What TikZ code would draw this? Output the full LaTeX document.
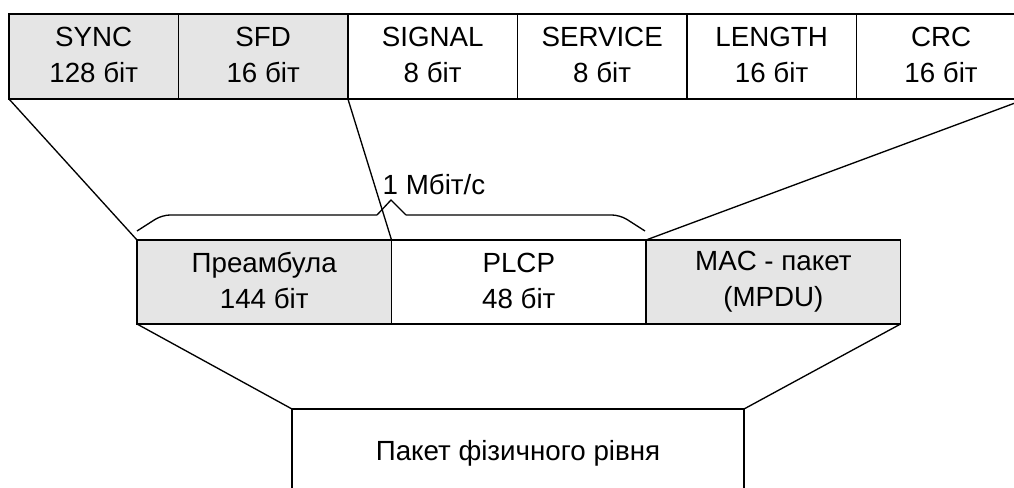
\documentclass[tikz,border=0pt]{standalone}
\usepackage{fontspec}
\setmainfont{Liberation Sans}
\usetikzlibrary{positioning}
\newcommand{\topstrut}{\rule{0pt}{16.9pt}}
\newcommand{\botstrut}{\rule[-2pt]{0pt}{2pt}}
\tikzstyle{field}=[draw, line width=1pt, outer sep=0, inner sep=0, minimum width=127.1pt, minimum height=63.75pt, align=center, font=\fontsize{20.8}{27}\selectfont, execute at begin node=\topstrut, execute at end node=\botstrut]
\tikzstyle{shaded field}=[field, fill=black!10]
\tikzstyle{part}=[field, minimum width=190.9pt, minimum height=63pt]
\tikzstyle{link}=[line width=1pt]

\begin{document}
\begin{tikzpicture}[x=0.75pt, y=-0.75pt, node distance=0pt]
  \useasboundingbox (0,0) rectangle (1014,488);
  \clip (0,0) rectangle (1014,488);

  % PLCP frame fields
  \node[shaded field, anchor=north west] (sync) at (9,14) {SYNC\\128 біт};
  \node[shaded field, right=of sync] (sfd) {SFD\\16 біт};
  \node[field, right=of sfd] (signal) {SIGNAL\\8 біт};
  \node[field, right=of signal] (service) {SERVICE\\8 біт};
  \node[field, right=of service] (length) {LENGTH\\16 біт};
  \node[field, right=of length] (crc) {CRC\\16 біт};

  % packet parts
  \node[part, fill=black!10, anchor=north west] (pre) at (137,240) {Преамбула\\144 біт};
  \node[part, right=of pre] (plcp) {PLCP\\48 біт};
  \node[part, fill=black!10, right=of plcp] (mac) {MAC - пакет\\(MPDU)};

  \node[field, anchor=north west, minimum width=339pt, minimum height=64.5pt] (phy) at (292,409) {Пакет фізичного рівня};

  \draw[link] (sync.south west) -- (pre.north west);
  \draw[link] (sfd.south east) -- (plcp.north west);
  \draw[link] (crc.south east) -- (mac.north west);
  \draw[link] (pre.south west) -- (phy.north west);
  \draw[link] (mac.south east) -- (phy.north east);

  % rate brace
  \draw[link, rounded corners=6pt] (137,231) -- (162,215) -- (377,215);
  \draw[link] (377,215) -- (391,200) -- (406,215);
  \draw[link, rounded corners=6pt] (406,215) -- (620,215) -- (645,231);
  \node[font=\fontsize{20.8}{27}\selectfont] (rate) at (434,184) {1 Мбіт/с};
\end{tikzpicture}
\end{document}
